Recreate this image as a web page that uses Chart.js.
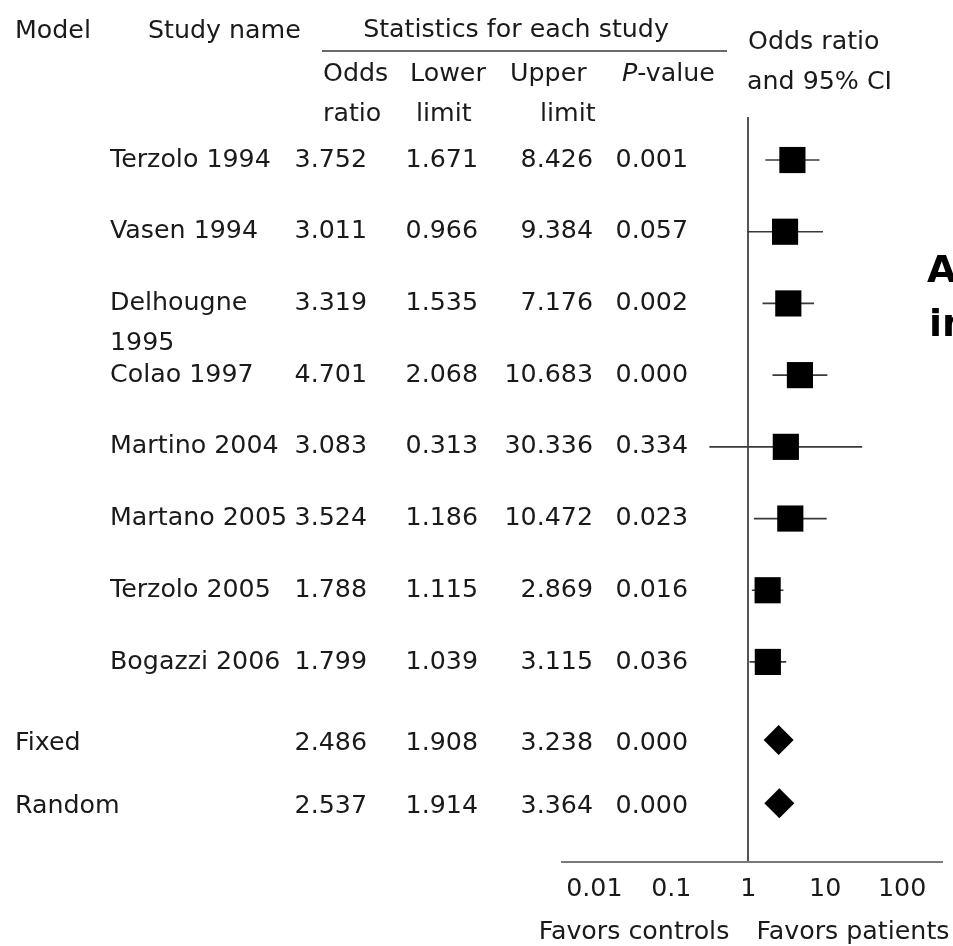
<!DOCTYPE html>
<html>
<head>
<meta charset="utf-8">
<script src="https://cdn.jsdelivr.net/npm/chart.js@4.4.1/dist/chart.umd.min.js"></script>
<style>
  html, body { margin: 0; padding: 0; background: #fff; overflow: hidden; }
  #wrap { width: 953px; height: 946px; position: relative; }
</style>
</head>
<body>
<div id="wrap"><canvas id="forest"></canvas></div>
<script>
// Individual studies
const studyNames = ['Terzolo 1994', 'Vasen 1994', 'Delhougne\n1995', 'Colao 1997',
                    'Martino 2004', 'Martano 2005', 'Terzolo 2005', 'Bogazzi 2006'];
const oddsRatio  = [3.752, 3.011, 3.319, 4.701, 3.083, 3.524, 1.788, 1.799];
const lowerLimit = [1.671, 0.966, 1.535, 2.068, 0.313, 1.186, 1.115, 1.039];
const upperLimit = [8.426, 9.384, 7.176, 10.683, 30.336, 10.472, 2.869, 3.115];
const pValue     = ['0.001', '0.057', '0.002', '0.000', '0.334', '0.023', '0.016', '0.036'];

// Pooled estimates
const modelNames  = ['Fixed', 'Random'];
const pooledOR    = [2.486, 2.537];
const pooledLower = [1.908, 1.914];
const pooledUpper = [3.238, 3.364];
const pooledP     = ['0.000', '0.000'];

// Axis
const axisTicks = [0.01, 0.1, 1, 10, 100];
const sideLabels = ['Favors controls', 'Favors patients'];

// ---- layout ----
const FONT = "'DejaVu Sans', Verdana, sans-serif";
const FS = 25.3;
const INK = '#1a1a1a';
const pooledRowSlots = [8.09, 8.97];            // row slots of the summary lines
const studyRows = studyNames.map((_, i) => i);
const cols = { model: 15, study: 110, or: 367, lo: 478, hi: 593, p: 688 };

const fmt = v => v.toFixed(3);

const tablePlugin = {
  id: 'forestTable',
  beforeDatasetsDraw(chart) {
    const { ctx, scales: { x, y } } = chart;
    ctx.save();
    ctx.strokeStyle = '#3a3a3a';
    ctx.lineWidth = 1.7;
    studyRows.forEach((r, i) => {
      const py = y.getPixelForValue(r);
      ctx.beginPath();
      ctx.moveTo(x.getPixelForValue(lowerLimit[i]), py);
      ctx.lineTo(x.getPixelForValue(upperLimit[i]), py);
      ctx.stroke();
    });
    pooledRowSlots.forEach((r, i) => {
      const py = y.getPixelForValue(r);
      ctx.beginPath();
      ctx.moveTo(x.getPixelForValue(pooledLower[i]), py);
      ctx.lineTo(x.getPixelForValue(pooledUpper[i]), py);
      ctx.stroke();
    });
    ctx.restore();
  },
  afterDraw(chart) {
    const { ctx, scales: { y } } = chart;
    ctx.save();
    ctx.fillStyle = INK;
    ctx.textBaseline = 'middle';
    ctx.font = `${FS}px ${FONT}`;

    const txt = (s, px, py, align = 'left') => { ctx.textAlign = align; ctx.fillText(s, px, py); };

    // header
    txt('Model', 15, 31);
    txt('Study name', 148, 31);
    txt('Statistics for each study', 516, 30, 'center');
    ctx.strokeStyle = '#6a6a6a';
    ctx.lineWidth = 2;
    ctx.beginPath(); ctx.moveTo(322, 51); ctx.lineTo(727, 51); ctx.stroke();
    txt('Odds', 323, 74);  txt('ratio', 323, 114);
    txt('Lower', 410, 74); txt('limit', 416, 114);
    txt('Upper', 510, 74); txt('limit', 540, 114);
    ctx.font = `italic ${FS}px ${FONT}`;
    txt('P', 622, 74);
    const pw = ctx.measureText('P').width;
    ctx.font = `${FS}px ${FONT}`;
    txt('-value', 622 + pw, 74);
    txt('Odds ratio', 748, 42);
    txt('and 95% CI', 747, 82);

    // study rows
    studyRows.forEach((r, i) => {
      const py = y.getPixelForValue(r);
      studyNames[i].split('\n').forEach((line, k) => txt(line, cols.study, py + k * 40));
      txt(fmt(oddsRatio[i]), cols.or, py, 'right');
      txt(fmt(lowerLimit[i]), cols.lo, py, 'right');
      txt(fmt(upperLimit[i]), cols.hi, py, 'right');
      txt(pValue[i], cols.p, py, 'right');
    });

    // pooled rows
    pooledRowSlots.forEach((r, i) => {
      const py = y.getPixelForValue(r);
      txt(modelNames[i], cols.model, py + 3);
      txt(fmt(pooledOR[i]), cols.or, py + 3, 'right');
      txt(fmt(pooledLower[i]), cols.lo, py + 3, 'right');
      txt(fmt(pooledUpper[i]), cols.hi, py + 3, 'right');
      txt(pooledP[i], cols.p, py + 3, 'right');
    });

    // direction labels under the axis
    txt(sideLabels[0], 634, 932, 'center');
    txt(sideLabels[1], 853, 932, 'center');

    // neighbouring panel heading, cut at the page edge
    ctx.font = `bold 38px ${FONT}`;
    ctx.fillStyle = '#000';
    txt('A', 927, 272);
    txt('in', 929, 326);
    ctx.restore();
  }
};

new Chart(document.getElementById('forest'), {
  type: 'scatter',
  data: {
    datasets: [
      {
        label: 'Studies',
        data: oddsRatio.map((v, i) => ({ x: v, y: studyRows[i] })),
        pointStyle: 'rect',
        pointRadius: 18.5,
        pointHoverRadius: 18.5,
        backgroundColor: '#000',
        borderWidth: 0
      },
      {
        label: 'Pooled',
        data: pooledOR.map((v, i) => ({ x: v, y: pooledRowSlots[i] })),
        pointStyle: 'rectRot',
        pointRadius: 15,
        pointHoverRadius: 15,
        backgroundColor: '#000',
        borderWidth: 0
      }
    ]
  },
  options: {
    responsive: true,
    maintainAspectRatio: false,
    animation: false,
    events: [],
    layout: { autoPadding: false, padding: { left: 562, right: 11, top: 117, bottom: 14 } },
    plugins: { legend: { display: false }, tooltip: { enabled: false } },
    scales: {
      x: {
        type: 'logarithmic',
        min: 0.0038,
        max: 330,
        afterBuildTicks: s => { s.ticks = axisTicks.map(v => ({ value: v })); },
        afterFit: s => { s.height = 70; s.paddingLeft = 0; s.paddingRight = 0; },
        ticks: {
          color: INK,
          font: { family: FONT, size: FS },
          padding: 12,
          autoSkip: false,
          maxRotation: 0,
          callback: v => String(v)
        },
        grid: {
          drawTicks: false,
          lineWidth: 2,
          color: c => (c.tick && c.tick.value === 1 ? '#555' : 'rgba(0,0,0,0)')
        },
        border: { display: true, color: '#7a7a7a', width: 2 }
      },
      y: {
        type: 'linear',
        display: false,
        reverse: true,
        min: -0.6,
        max: 9.79
      }
    }
  },
  plugins: [tablePlugin]
});
</script>
</body>
</html>
